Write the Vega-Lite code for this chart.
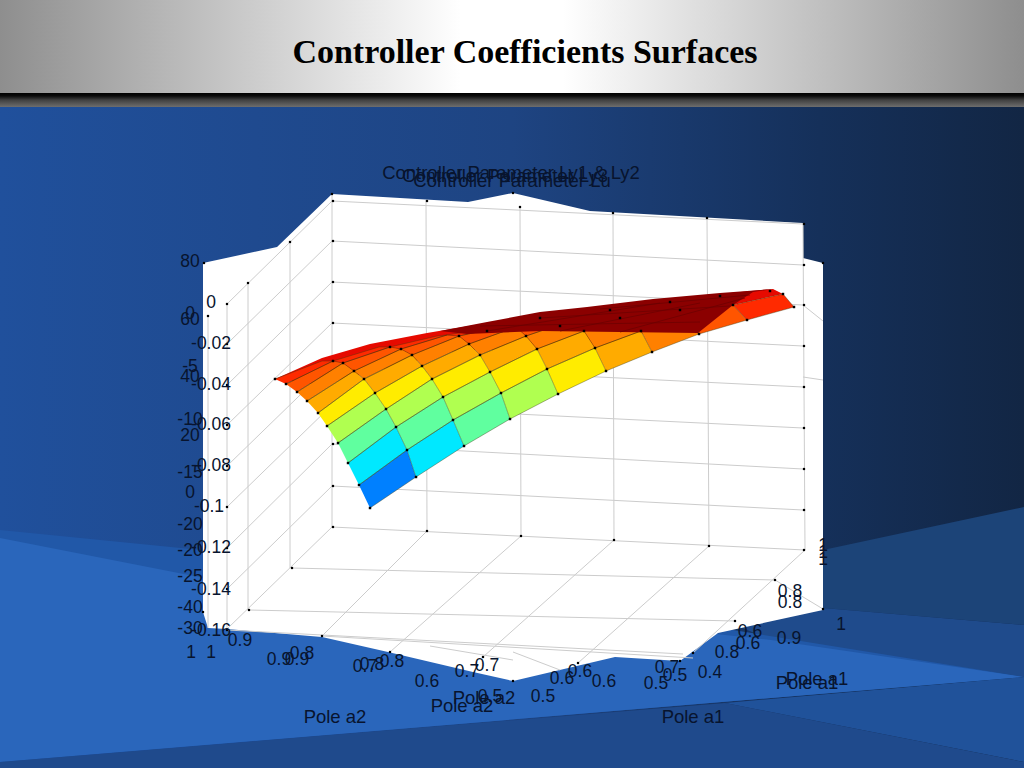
{"$schema":"https://vega.github.io/schema/vega-lite/v6.json","width":1024,"height":768,"padding":0,"autosize":{"type":"fit","contains":"padding"},"background":"#12284a","config":{"view":{"stroke":null}},
"datasets":{
"bands":[{"name":"title","x":0,"x2":1024,"y":0,"y2":93}],
"back":[{"x":0,"x2":1024,"y":107,"y2":768}],
"strip":[{"x":0,"x2":1024,"y":93,"y2":107}],
"bg":[
{"id":"r1","f":"#1c4478","xs":[823,1024,1024,823],"ys":[550,507,625,608],"o":[0,1,2,3]},
{"id":"r2","f":"#1f4b8c","xs":[700,823,1024,1024,771],"ys":[610,608,625,677,640],"o":[0,1,2,3,4]},
{"id":"p0","f":"#2158a8","xs":[0,300,1024,0],"ys":[530,560,677,762],"o":[0,1,2,3]},
{"id":"p1","f":"#2a66bb","xs":[0,204,771,1024,0],"ys":[538,578,640,677,762],"o":[0,1,2,3,4]},
{"id":"p2","f":"#20529a","xs":[725,1024,1024],"ys":[703,677,762],"o":[0,1,2]},
{"id":"p3","f":"#1f4a8c","xs":[0,725,1024,1024,0],"ys":[762,703,762,768,768],"o":[0,1,2,3,4]}
],
"panel":[{"id":"panel","xs":[203,277,332,468,513,590,803,803,823,823,718,680,615,513,473,388,322,227,208,203],"ys":[263,247,194,202,193,211,223,258,263,610,633,661,657,681,672,652,637,629,628,612],"o":[0,1,2,3,4,5,6,7,8,9,10,11,12,13,14,15,16,17,18,19]}],
"grid":[
{"a":332,"b":201,"c":803,"d":224},{"a":332,"b":241,"c":803,"d":265},{"a":332,"b":282,"c":803,"d":305},{"a":332,"b":323,"c":803,"d":346},{"a":332,"b":364,"c":803,"d":387},{"a":332,"b":405,"c":803,"d":428},{"a":332,"b":444,"c":803,"d":469},{"a":332,"b":486,"c":803,"d":510},{"a":332,"b":527,"c":805,"d":550},
{"a":426,"b":200,"c":427,"d":531},{"a":520,"b":207,"c":521,"d":536},{"a":613,"b":213,"c":614,"d":540},{"a":707,"b":218,"c":709,"d":546},{"a":803,"b":223,"c":805,"d":550},
{"a":332,"b":194,"c":332,"d":527},{"a":290,"b":242,"c":290,"d":568},{"a":248,"b":283,"c":248,"d":610},{"a":227,"b":304,"c":227,"d":629},{"a":208,"b":316,"c":208,"d":628},
{"a":227,"b":304,"c":332,"d":201},{"a":227,"b":344,"c":332,"d":241},{"a":227,"b":385,"c":332,"d":282},{"a":227,"b":425,"c":332,"d":323},{"a":227,"b":466,"c":332,"d":364},{"a":227,"b":507,"c":332,"d":405},{"a":227,"b":548,"c":332,"d":444},{"a":227,"b":589,"c":332,"d":486},{"a":227,"b":629,"c":332,"d":527},
{"a":292,"b":568,"c":775,"d":580},{"a":249,"b":610,"c":735,"d":621},{"a":227,"b":630,"c":683,"d":654},{"a":322,"b":636,"c":693,"d":658},
{"a":427,"b":531,"c":322,"d":636},{"a":521,"b":536,"c":390,"d":652},{"a":614,"b":540,"c":483,"d":657},{"a":709,"b":546,"c":578,"d":663},{"a":805,"b":550,"c":693,"d":653},
{"a":803,"b":305,"c":823,"d":321},{"a":803,"b":377,"c":823,"d":380},{"a":775,"b":580,"c":823,"d":609},{"a":430,"b":646,"c":513,"d":660},{"a":513,"b":652,"c":560,"d":670}
],
"ticks":[{"x":333,"y":201},{"x":333,"y":241},{"x":333,"y":282},{"x":333,"y":323},{"x":333,"y":364},{"x":333,"y":405},{"x":333,"y":444},{"x":333,"y":486},{"x":333,"y":527},{"x":427,"y":201},{"x":520,"y":207},{"x":613,"y":213},{"x":707,"y":218},{"x":804,"y":224},{"x":804,"y":265},{"x":804,"y":305},{"x":804,"y":346},{"x":804,"y":387},{"x":804,"y":428},{"x":804,"y":469},{"x":804,"y":510},{"x":804,"y":550},{"x":427,"y":531},{"x":521,"y":536},{"x":614,"y":540},{"x":709,"y":546},{"x":292,"y":568},{"x":249,"y":610},{"x":322,"y":636},{"x":390,"y":652},{"x":483,"y":657},{"x":578,"y":663},{"x":693,"y":653},{"x":775,"y":580},{"x":735,"y":621},{"x":290,"y":242},{"x":248,"y":283},{"x":227,"y":304},{"x":227,"y":344},{"x":227,"y":385},{"x":227,"y":425},{"x":227,"y":466},{"x":227,"y":507},{"x":227,"y":548},{"x":227,"y":589},{"x":208,"y":316},{"x":204,"y":263},{"x":823,"y":263},{"x":513,"y":193},{"x":332,"y":194},{"x":823,"y":609},{"x":203,"y":612},{"x":227,"y":630},{"x":513,"y":681},{"x":680,"y":661}],
"surfaceBack":[
{"id":"top","f":"#e60a00","xs":[275,322,370,427,487,540,587,653,720,773,783,733,689,600,460,320],"ys":[379,358,344,333,323,313,308,300,294,289,294,305,316,350,350,385],"o":[0,1,2,3,4,5,6,7,8,9,10,11,12,13,14,15]}
],
"cells":[
{"id":"c00","f":"#0080ff","xs":[370,416,407,359],"ys":[508,477,450,485],"o":[0,1,2,3]},
{"id":"c10","f":"#00e8ff","xs":[416,464,453,407],"ys":[477,446,420,450],"o":[0,1,2,3]},
{"id":"c20","f":"#60ff9f","xs":[464,510,501,453],"ys":[446,419,393,420],"o":[0,1,2,3]},
{"id":"c30","f":"#b0ff50","xs":[510,558,547,501],"ys":[419,394,369,393],"o":[0,1,2,3]},
{"id":"c40","f":"#ffec00","xs":[558,606,595,547],"ys":[394,371,348,369],"o":[0,1,2,3]},
{"id":"c50","f":"#ffab00","xs":[606,652,641,595],"ys":[371,352,331,348],"o":[0,1,2,3]},
{"id":"c60","f":"#ff8000","xs":[652,699,689,641],"ys":[352,334,316,331],"o":[0,1,2,3]},
{"id":"c70","f":"#ff5500","xs":[699,747,733,689],"ys":[334,320,305,316],"o":[0,1,2,3]},
{"id":"c80","f":"#ff2a00","xs":[747,794,783,733],"ys":[320,307,294,305],"o":[0,1,2,3]},
{"id":"c01","f":"#00e8ff","xs":[359,407,396,348],"ys":[485,450,427,463],"o":[0,1,2,3]},
{"id":"c11","f":"#60ff9f","xs":[407,453,443,396],"ys":[450,420,397,427],"o":[0,1,2,3]},
{"id":"c21","f":"#b0ff50","xs":[453,501,490,443],"ys":[420,393,372,397],"o":[0,1,2,3]},
{"id":"c31","f":"#ffec00","xs":[501,547,537,490],"ys":[393,369,349,372],"o":[0,1,2,3]},
{"id":"c41","f":"#ffab00","xs":[547,595,584,537],"ys":[369,348,331,349],"o":[0,1,2,3]},
{"id":"c51","f":"#ff8000","xs":[595,641,630,584],"ys":[348,331,316,331],"o":[0,1,2,3]},
{"id":"c61","f":"#ff5500","xs":[641,689,678,630],"ys":[331,316,303,316],"o":[0,1,2,3]},
{"id":"c71","f":"#ff2a00","xs":[689,733,722,678],"ys":[316,305,295,303],"o":[0,1,2,3]},
{"id":"c02","f":"#60ff9f","xs":[348,396,386,338],"ys":[463,427,409,443],"o":[0,1,2,3]},
{"id":"c12","f":"#b0ff50","xs":[396,443,432,386],"ys":[427,397,379,409],"o":[0,1,2,3]},
{"id":"c22","f":"#ffec00","xs":[443,490,480,432],"ys":[397,372,355,379],"o":[0,1,2,3]},
{"id":"c32","f":"#ffab00","xs":[490,537,526,480],"ys":[372,349,336,355],"o":[0,1,2,3]},
{"id":"c42","f":"#ff8000","xs":[537,584,573,526],"ys":[349,331,320,336],"o":[0,1,2,3]},
{"id":"c52","f":"#ff5500","xs":[584,630,620,573],"ys":[331,316,307,320],"o":[0,1,2,3]},
{"id":"c62","f":"#ff2a00","xs":[630,678,668,620],"ys":[316,303,300,307],"o":[0,1,2,3]},
{"id":"c03","f":"#b0ff50","xs":[338,386,375,327],"ys":[443,409,393,426],"o":[0,1,2,3]},
{"id":"c13","f":"#ffec00","xs":[386,432,422,375],"ys":[409,379,366,393],"o":[0,1,2,3]},
{"id":"c23","f":"#ffab00","xs":[432,480,469,422],"ys":[379,355,344,366],"o":[0,1,2,3]},
{"id":"c33","f":"#ff8000","xs":[480,526,516,469],"ys":[355,336,327,344],"o":[0,1,2,3]},
{"id":"c43","f":"#ff5500","xs":[526,573,563,516],"ys":[336,320,314,327],"o":[0,1,2,3]},
{"id":"c53","f":"#ff2a00","xs":[573,620,610,563],"ys":[320,307,308,314],"o":[0,1,2,3]},
{"id":"c04","f":"#ffec00","xs":[327,375,364,318],"ys":[426,393,379,413],"o":[0,1,2,3]},
{"id":"c14","f":"#ffab00","xs":[375,422,412,364],"ys":[393,366,355,379],"o":[0,1,2,3]},
{"id":"c24","f":"#ff8000","xs":[422,469,459,412],"ys":[366,344,336,355],"o":[0,1,2,3]},
{"id":"c34","f":"#ff5500","xs":[469,516,505,459],"ys":[344,327,326,336],"o":[0,1,2,3]},
{"id":"c44","f":"#ff2a00","xs":[516,563,553,505],"ys":[327,314,316,326],"o":[0,1,2,3]},
{"id":"c05","f":"#ffab00","xs":[318,364,354,307],"ys":[413,379,371,401],"o":[0,1,2,3]},
{"id":"c15","f":"#ff8000","xs":[364,412,401,354],"ys":[379,355,349,371],"o":[0,1,2,3]},
{"id":"c25","f":"#ff5500","xs":[412,459,447,401],"ys":[355,336,335,349],"o":[0,1,2,3]},
{"id":"c35","f":"#ff2a00","xs":[459,505,495,447],"ys":[336,326,327,335],"o":[0,1,2,3]},
{"id":"c06","f":"#ff8000","xs":[307,354,343,297],"ys":[401,371,363,392],"o":[0,1,2,3]},
{"id":"c16","f":"#ff5500","xs":[354,401,390,343],"ys":[371,349,347,363],"o":[0,1,2,3]},
{"id":"c26","f":"#ff2a00","xs":[401,447,437,390],"ys":[349,335,336,347],"o":[0,1,2,3]},
{"id":"c07","f":"#ff5500","xs":[297,343,333,286],"ys":[392,363,361,384],"o":[0,1,2,3]},
{"id":"c17","f":"#ff2a00","xs":[343,390,379,333],"ys":[363,347,347,361],"o":[0,1,2,3]},
{"id":"c08","f":"#ff2a00","xs":[286,333,322,275],"ys":[384,361,361,379],"o":[0,1,2,3]}
],
"dark":[
{"id":"dark","f":"#8b0000","xs":[467,540,698,733,753,773,720,653,587,540,487,440],"ys":[334,331,333,305,292,289,293,299,307,312,322,331],"o":[0,1,2,3,4,5,6,7,8,9,10,11]}
],
"darkLines":[{"a":487,"b":331,"c":660,"d":303},{"a":560,"b":331,"c":700,"d":303},{"a":620,"b":332,"c":745,"d":298},{"a":480,"b":326,"c":700,"d":322},{"a":540,"b":318,"c":730,"d":306},{"a":600,"b":309,"c":750,"d":295}],
"nodes":[
{"x":370,"y":508},{"x":416,"y":477},{"x":464,"y":446},{"x":510,"y":419},{"x":558,"y":394},{"x":606,"y":371},{"x":652,"y":352},{"x":699,"y":334},{"x":747,"y":320},{"x":794,"y":307},
{"x":359,"y":485},{"x":407,"y":450},{"x":453,"y":420},{"x":501,"y":393},{"x":547,"y":369},{"x":595,"y":348},{"x":641,"y":331},{"x":733,"y":305},{"x":783,"y":294},
{"x":348,"y":463},{"x":396,"y":427},{"x":443,"y":397},{"x":490,"y":372},{"x":537,"y":349},{"x":584,"y":331},
{"x":338,"y":443},{"x":386,"y":409},{"x":432,"y":379},{"x":480,"y":355},{"x":526,"y":336},
{"x":327,"y":426},{"x":375,"y":393},{"x":422,"y":366},{"x":469,"y":344},
{"x":318,"y":413},{"x":364,"y":379},{"x":412,"y":355},{"x":459,"y":336},
{"x":307,"y":401},{"x":354,"y":371},{"x":401,"y":349},
{"x":297,"y":392},{"x":343,"y":363},{"x":390,"y":347},
{"x":286,"y":384},{"x":333,"y":361},{"x":275,"y":379},
{"x":487,"y":331},{"x":560,"y":326},{"x":620,"y":318},{"x":680,"y":310},{"x":540,"y":318},{"x":610,"y":310},{"x":670,"y":302},{"x":720,"y":296},{"x":770,"y":291}
],
"titles":[
{"x":511,"y":173,"t":"Controller Parameter Ly1 & Ly2"},{"x":505,"y":176,"t":"Controller Parameter Ly3"},{"x":512,"y":181,"t":"Controller Parameter Lu"},
{"x":335,"y":717,"t":"Pole a2"},{"x":462,"y":706,"t":"Pole a2"},{"x":484,"y":698,"t":"Pole a2"},{"x":693,"y":717,"t":"Pole a1"},{"x":807,"y":683,"t":"Pole a1"},{"x":817,"y":679,"t":"Pole a1"}
],
"labels":[
{"x":190,"y":262,"t":"80","a":"right"},{"x":190,"y":320,"t":"60","a":"right"},{"x":190,"y":377,"t":"40","a":"right"},{"x":190,"y":436,"t":"20","a":"right"},{"x":190,"y":493,"t":"0","a":"right"},{"x":190,"y":551,"t":"-20","a":"right"},{"x":190,"y":608,"t":"-40","a":"right"},
{"x":190,"y":314,"t":"0","a":"right"},{"x":190,"y":367,"t":"-5","a":"right"},{"x":190,"y":420,"t":"-10","a":"right"},{"x":190,"y":473,"t":"-15","a":"right"},{"x":190,"y":525,"t":"-20","a":"right"},{"x":190,"y":577,"t":"-25","a":"right"},{"x":190,"y":629,"t":"-30","a":"right"},
{"x":211,"y":303,"t":"0","a":"right"},{"x":211,"y":344,"t":"-0.02","a":"right"},{"x":211,"y":385,"t":"-0.04","a":"right"},{"x":211,"y":425,"t":"-0.06","a":"right"},{"x":211,"y":466,"t":"-0.08","a":"right"},{"x":209,"y":507,"t":"-0.1","a":"right"},{"x":211,"y":548,"t":"-0.12","a":"right"},{"x":211,"y":590,"t":"-0.14","a":"right"},{"x":211,"y":631,"t":"-0.16","a":"right"},
{"x":191,"y":653,"t":"1","a":"center"},{"x":211,"y":653,"t":"1","a":"center"},{"x":240,"y":641,"t":"0.9","a":"center"},{"x":279,"y":660,"t":"0.9","a":"center"},{"x":297,"y":660,"t":"0.9","a":"center"},{"x":302,"y":654,"t":"0.8","a":"center"},{"x":365,"y":667,"t":"0.7","a":"center"},{"x":372,"y":665,"t":"0.8","a":"center"},{"x":392,"y":662,"t":"0.8","a":"center"},{"x":427,"y":682,"t":"0.6","a":"center"},{"x":467,"y":672,"t":"0.7","a":"center"},{"x":487,"y":666,"t":"0.7","a":"center"},{"x":490,"y":697,"t":"0.5","a":"center"},{"x":543,"y":697,"t":"0.5","a":"center"},{"x":562,"y":679,"t":"0.6","a":"center"},{"x":580,"y":672,"t":"0.6","a":"center"},{"x":604,"y":682,"t":"0.6","a":"center"},{"x":667,"y":668,"t":"0.7","a":"center"},{"x":656,"y":684,"t":"0.5","a":"center"},{"x":675,"y":676,"t":"0.5","a":"center"},{"x":710,"y":673,"t":"0.4","a":"center"},{"x":727,"y":653,"t":"0.8","a":"center"},{"x":748,"y":644,"t":"0.6","a":"center"},{"x":750,"y":632,"t":"0.6","a":"center"},{"x":789,"y":639,"t":"0.9","a":"center"},{"x":841,"y":625,"t":"1","a":"center"},{"x":790,"y":592,"t":"0.8","a":"center"},{"x":790,"y":603,"t":"0.8","a":"center"},{"x":823,"y":546,"t":"1","a":"center"},{"x":823,"y":553,"t":"1","a":"center"},{"x":823,"y":560,"t":"1","a":"center"}
],
"heading":[{"x":525,"y":53,"t":"Controller Coefficients Surfaces"}]
},
"layer":[
{"data":{"name":"back"},"mark":{"type":"rect","color":{"gradient":"linear","x1":0,"y1":0,"x2":1,"y2":0,"stops":[{"offset":0,"color":"#20509c"},{"offset":0.5,"color":"#1e4482"},{"offset":0.8,"color":"#15305a"},{"offset":1,"color":"#122644"}]}},"encoding":{"x":{"field":"x","type":"quantitative","scale":{"domain":[0,1024],"nice":false,"zero":false},"axis":null},"x2":{"field":"x2"},"y":{"field":"y","type":"quantitative","scale":{"domain":[768,0],"nice":false,"zero":false},"axis":null},"y2":{"field":"y2"}}},
{"data":{"name":"bands"},"mark":{"type":"rect","color":{"gradient":"linear","x1":0,"y1":0,"x2":1,"y2":0,"stops":[{"offset":0,"color":"#8e8e8e"},{"offset":0.45,"color":"#ffffff"},{"offset":0.55,"color":"#ffffff"},{"offset":1,"color":"#8e8e8e"}]}},"encoding":{"x":{"field":"x","type":"quantitative","axis":null},"x2":{"field":"x2"},"y":{"field":"y","type":"quantitative","axis":null},"y2":{"field":"y2"}}},
{"data":{"name":"strip"},"mark":{"type":"rect","color":{"gradient":"linear","x1":0,"y1":0,"x2":0,"y2":1,"stops":[{"offset":0,"color":"#000000"},{"offset":0.2,"color":"#0a0a0a"},{"offset":0.5,"color":"#404040"},{"offset":1,"color":"#6e6e6e"}]}},"encoding":{"x":{"field":"x","type":"quantitative","axis":null},"x2":{"field":"x2"},"y":{"field":"y","type":"quantitative","axis":null},"y2":{"field":"y2"}}},
{"data":{"name":"bg"},"transform":[{"flatten":["xs","ys","o"]}],"mark":{"type":"line","filled":true,"strokeWidth":0},"encoding":{"x":{"field":"xs","type":"quantitative","axis":null},"y":{"field":"ys","type":"quantitative","axis":null},"detail":{"field":"id"},"order":{"field":"o"},"color":{"field":"f","type":"nominal","scale":null,"legend":null}}},
{"data":{"name":"panel"},"transform":[{"flatten":["xs","ys","o"]}],"mark":{"type":"line","filled":true,"color":"#ffffff","strokeWidth":0},"encoding":{"x":{"field":"xs","type":"quantitative","axis":null},"y":{"field":"ys","type":"quantitative","axis":null},"detail":{"field":"id"},"order":{"field":"o"}}},
{"data":{"name":"grid"},"mark":{"type":"rule","color":"#cccccc","strokeWidth":1},"encoding":{"x":{"field":"a","type":"quantitative","axis":null},"y":{"field":"b","type":"quantitative","axis":null},"x2":{"field":"c"},"y2":{"field":"d"}}},
{"data":{"name":"ticks"},"mark":{"type":"point","shape":"square","size":5,"filled":true,"color":"#000000","opacity":1},"encoding":{"x":{"field":"x","type":"quantitative","axis":null},"y":{"field":"y","type":"quantitative","axis":null}}},
{"data":{"name":"surfaceBack"},"transform":[{"flatten":["xs","ys","o"]}],"mark":{"type":"line","filled":true,"strokeWidth":0},"encoding":{"x":{"field":"xs","type":"quantitative","axis":null},"y":{"field":"ys","type":"quantitative","axis":null},"detail":{"field":"id"},"order":{"field":"o"},"color":{"field":"f","type":"nominal","scale":null,"legend":null}}},
{"data":{"name":"cells"},"transform":[{"flatten":["xs","ys","o"]}],"mark":{"type":"line","filled":true,"strokeWidth":0},"encoding":{"x":{"field":"xs","type":"quantitative","axis":null},"y":{"field":"ys","type":"quantitative","axis":null},"detail":{"field":"id"},"order":{"field":"o"},"color":{"field":"f","type":"nominal","scale":null,"legend":null}}},
{"data":{"name":"cells"},"transform":[{"flatten":["xs","ys","o"]}],"mark":{"type":"line","color":"#3a3a10","strokeWidth":0.5,"opacity":0.8},"encoding":{"x":{"field":"xs","type":"quantitative","axis":null},"y":{"field":"ys","type":"quantitative","axis":null},"detail":{"field":"id"},"order":{"field":"o"}}},
{"data":{"name":"dark"},"transform":[{"flatten":["xs","ys","o"]}],"mark":{"type":"line","filled":true,"strokeWidth":0},"encoding":{"x":{"field":"xs","type":"quantitative","axis":null},"y":{"field":"ys","type":"quantitative","axis":null},"detail":{"field":"id"},"order":{"field":"o"},"color":{"field":"f","type":"nominal","scale":null,"legend":null}}},
{"data":{"name":"darkLines"},"mark":{"type":"rule","color":"#6a0000","strokeWidth":0.7},"encoding":{"x":{"field":"a","type":"quantitative","axis":null},"y":{"field":"b","type":"quantitative","axis":null},"x2":{"field":"c"},"y2":{"field":"d"}}},
{"data":{"name":"nodes"},"mark":{"type":"point","shape":"square","size":6,"filled":true,"color":"#000000","opacity":1},"encoding":{"x":{"field":"x","type":"quantitative","axis":null},"y":{"field":"y","type":"quantitative","axis":null}}},
{"data":{"name":"labels"},"mark":{"type":"text","font":"Liberation Sans","fontSize":17.5,"color":"#08142e","baseline":"middle"},"encoding":{"x":{"field":"x","type":"quantitative","axis":null},"y":{"field":"y","type":"quantitative","axis":null},"text":{"field":"t"},"align":{"field":"a","type":"nominal","scale":null}}},
{"data":{"name":"titles"},"mark":{"type":"text","font":"Liberation Sans","fontSize":18.5,"color":"#08142e","baseline":"middle","align":"center"},"encoding":{"x":{"field":"x","type":"quantitative","axis":null},"y":{"field":"y","type":"quantitative","axis":null},"text":{"field":"t"}}},
{"data":{"name":"heading"},"mark":{"type":"text","font":"Liberation Serif","fontWeight":"bold","fontSize":34,"color":"#000000","baseline":"middle","align":"center"},"encoding":{"x":{"field":"x","type":"quantitative","axis":null},"y":{"field":"y","type":"quantitative","axis":null},"text":{"field":"t"}}}
]}
